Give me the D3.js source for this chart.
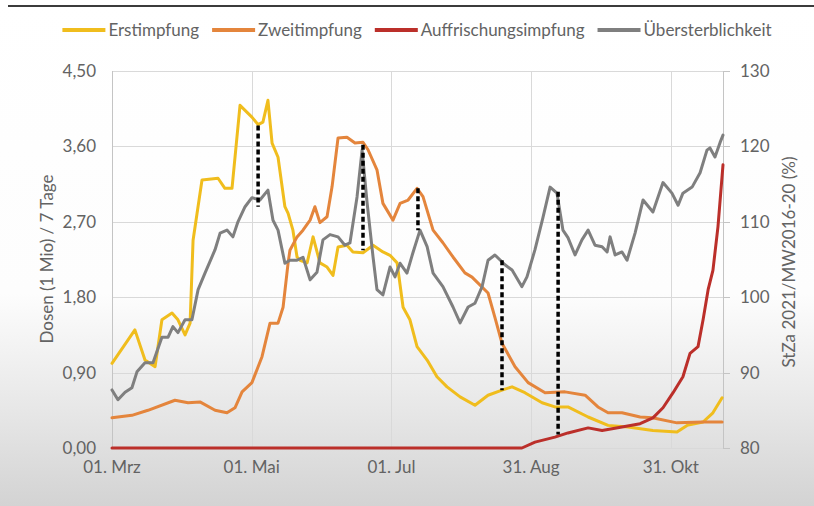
<!DOCTYPE html>
<html>
<head>
<meta charset="utf-8">
<title>Impfungen und Übersterblichkeit 2021</title>
<script src="https://d3js.org/d3.v7.min.js"></script>
<style>
	body { margin:0; background:#fff; }
	.chartContainer { width:814px; height:506px; }
	text { font-family: Lato, "Liberation Sans", sans-serif; fill:#636363; }
	.grid line { stroke:#d9d9d9; stroke-width:1; shape-rendering:crispEdges; }
	.axisline { stroke:#c4c4c4; stroke-width:1; shape-rendering:crispEdges; }
	.series { fill:none; stroke-width:3; stroke-linejoin:round; stroke-linecap:round; }
	.marker { stroke:#000; stroke-width:3.5; stroke-dasharray:5,3; }
</style>
</head>
<body>
<div class="chartContainer"></div>
<script>
// x = Tage ab 01. Mrz 2021, y = Dosen (Mio) bzw. StZa (%)
var erstimpfung = [[0,1.01],[10,1.41],[14.4,1.05],[18.8,0.97],[21.8,1.53],[26.2,1.61],[28.8,1.53],[31.9,1.35],[34.1,1.49],[35.4,2.48],[39.3,3.20],[46.3,3.22],[49.3,3.10],[52.4,3.10],[55.9,4.09],[61.1,3.95],[63.8,3.86],[65.9,3.89],[68.1,4.15],[69.9,3.64],[72.5,3.47],[75.5,2.88],[76.9,2.80],[79,2.60],[80.8,2.28],[82.1,2.24],[85.2,2.21],[87.8,2.52],[90.8,2.21],[93.9,2.16],[96.5,2.06],[98.7,2.40],[102.6,2.42],[105.2,2.34],[109.6,2.33],[114,2.42],[118.3,2.34],[121.4,2.30],[124.5,2.21],[127.1,1.68],[130.1,1.53],[133.2,1.21],[137.6,1.05],[141.9,0.85],[146.3,0.73],[152,0.61],[158.5,0.51],[164.2,0.63],[170.3,0.69],[174.7,0.73],[180.3,0.66],[187.8,0.54],[193.4,0.49],[199.1,0.49],[207.9,0.37],[216.6,0.27],[225.3,0.25],[236.2,0.21],[246.7,0.19],[251.1,0.27],[258.1,0.31],[262.4,0.42],[266.4,0.60]];

var zweitimpfung = [[0,0.36],[8.7,0.39],[15.7,0.45],[27.5,0.57],[33.2,0.54],[38.4,0.55],[45,0.45],[50.2,0.42],[53.7,0.48],[56.8,0.67],[61.1,0.78],[65.5,1.09],[69,1.49],[72.5,1.49],[74.7,1.68],[76.9,2.21],[77.7,2.36],[80.8,2.52],[83.4,2.60],[86.5,2.72],[88.6,2.88],[90.8,2.69],[93.9,2.76],[96.1,3.12],[98.7,3.70],[102.6,3.71],[106.1,3.64],[109.6,3.65],[111.8,3.56],[115.7,3.32],[118.3,2.92],[122.7,2.72],[125.8,2.92],[129.3,2.96],[133.2,3.10],[135.8,3.00],[140.2,2.60],[144.5,2.45],[148.9,2.28],[154.1,2.09],[157.2,2.04],[164.2,1.85],[167.2,1.56],[170.3,1.25],[176,0.97],[181.7,0.78],[189.1,0.66],[197.8,0.67],[206.6,0.63],[212.2,0.49],[216.6,0.42],[222.7,0.42],[230.6,0.37],[236,0.36],[246.7,0.30],[258.1,0.31],[266.4,0.31]];

var auffrischung = [[0,0],[179,0],[184.7,0.07],[193.4,0.13],[199.1,0.18],[207.9,0.24],[214,0.21],[222.7,0.25],[230.6,0.29],[236.2,0.36],[240.6,0.48],[245,0.66],[249.3,0.85],[252.4,1.13],[255.9,1.21],[258.1,1.53],[260.3,1.89],[262.4,2.12],[264.6,2.64],[266.8,3.38]];

var uebersterblichkeit = [[0,87.7],[2.6,86.4],[5.7,87.4],[8.7,88.0],[10.9,90.1],[14.4,91.3],[17.9,91.3],[21.8,94.7],[24.5,94.7],[26.6,96.1],[28.8,95.3],[31.9,97.0],[34.9,97.0],[37.6,101.0],[40.6,103.2],[45,106.3],[47.2,108.5],[50.2,108.9],[52.8,108.0],[55,110.0],[58.1,112.0],[61.1,113.2],[64.6,112.9],[68.1,114.2],[70.3,110.2],[72.5,108.9],[75.5,104.5],[77.7,104.9],[80.8,104.9],[83.4,105.3],[86.5,102.3],[89.5,103.3],[92.1,107.6],[95.2,108.3],[98.7,108.0],[101.7,106.9],[103.9,107.2],[107,113.3],[109.2,119.5],[111.4,112.5],[114,105.3],[115.7,101.0],[118.3,100.3],[121.4,104.0],[123.6,102.7],[125.8,104.5],[128.8,103.2],[131.4,105.9],[134.5,108.9],[137.6,106.7],[140.2,103.2],[144.5,101.4],[148.9,98.7],[152,96.6],[155.5,98.7],[158.5,99.2],[161.6,101.4],[164.2,104.9],[167.2,105.6],[171.6,104.3],[174.7,103.6],[179,101.4],[181.2,102.7],[184.7,106.3],[188.2,110.6],[191.3,114.6],[194.3,113.8],[196.9,108.9],[199.1,107.9],[202.2,105.6],[205.2,107.6],[207.9,108.9],[210.9,106.9],[214,106.7],[216.2,106.0],[217.5,108.0],[219.7,105.6],[222.7,106.0],[224.9,104.9],[228.4,108.5],[231.9,112.9],[236.2,111.3],[240.6,115.2],[244.5,113.8],[247.2,112.2],[249.3,113.8],[253.3,114.6],[256.8,116.5],[259.8,119.5],[261.1,119.8],[263.3,118.6],[265.5,120.5],[266.8,121.5]];

// gestrichelte Verbindungen (Tag, oberer / unterer Wert auf der Dosen-Achse)
var markerDays = [63.8, 109.6, 133.6, 170.3, 194.8];
var markerTop = [3.85, 3.62, 3.10, 2.24, 3.06];
var markerBottom = [2.88, 2.36, 2.60, 0.69, 0.16];

var xTickDays = [0, 61, 122, 183, 244];
var xTickLabels = ["01. Mrz", "01. Mai", "01. Jul", "31. Aug", "31. Okt"];
var leftTicks = [0, 0.9, 1.8, 2.7, 3.6, 4.5];
var rightTicks = [80, 90, 100, 110, 120, 130];

var seriesNames = ["Erstimpfung", "Zweitimpfung", "Auffrischungsimpfung", "Übersterblichkeit"];
var seriesColors = ["#f0bd1d", "#e4853c", "#bb2f2a", "#7f7f7f"];

var totalWidth = 814, totalHeight = 506;
var plot = {left:112, right:723, top:71, bottom:448};

var x = d3.scaleLinear().domain([0, 266.8]).range([plot.left, plot.right]);
var yLeft = d3.scaleLinear().domain([0, 4.5]).range([plot.bottom, plot.top]);
var yRight = d3.scaleLinear().domain([80, 130]).range([plot.bottom, plot.top]);

var svg = d3.select(".chartContainer").append("svg")
	.attr("width", totalWidth)
	.attr("height", totalHeight);

// hintergrund: heller verlauf nach unten wie im Foto
var grad = svg.append("defs").append("linearGradient")
	.attr("id", "bg").attr("x1", 0).attr("y1", 0).attr("x2", 0).attr("y2", 1);
grad.append("stop").attr("offset", "0%").attr("stop-color", "#ffffff");
grad.append("stop").attr("offset", "58%").attr("stop-color", "#fdfdfd");
grad.append("stop").attr("offset", "82%").attr("stop-color", "#e6e6e6");
grad.append("stop").attr("offset", "100%").attr("stop-color", "#d3d3d3");
svg.append("rect").attr("width", totalWidth).attr("height", totalHeight).attr("fill", "url(#bg)");

svg.append("line").attr("x1", 8).attr("x2", totalWidth).attr("y1", 6).attr("y2", 6)
	.attr("stroke", "#3b3b3b").attr("stroke-width", 2);

// gitter
var grid = svg.append("g").attr("class", "grid");
grid.selectAll(".h").data(leftTicks).enter().append("line")
	.attr("x1", plot.left).attr("x2", plot.right)
	.attr("y1", function(d) { return Math.round(yLeft(d)) + 0.5; })
	.attr("y2", function(d) { return Math.round(yLeft(d)) + 0.5; });
grid.selectAll(".v").data(xTickDays.slice(1)).enter().append("line")
	.attr("y1", plot.top).attr("y2", plot.bottom)
	.attr("x1", function(d) { return Math.round(x(d)) + 0.5; })
	.attr("x2", function(d) { return Math.round(x(d)) + 0.5; });

svg.append("line").attr("class", "axisline")
	.attr("x1", plot.left + 0.5).attr("x2", plot.left + 0.5).attr("y1", plot.top).attr("y2", plot.bottom);
svg.append("line").attr("class", "axisline")
	.attr("x1", plot.right + 0.5).attr("x2", plot.right + 0.5).attr("y1", plot.top).attr("y2", plot.bottom);
svg.selectAll(".rtick").data(rightTicks).enter().append("line").attr("class", "axisline")
	.attr("x1", plot.right).attr("x2", plot.right + 7)
	.attr("y1", function(d) { return Math.round(yRight(d)) + 0.5; })
	.attr("y2", function(d) { return Math.round(yRight(d)) + 0.5; });

// achsenbeschriftung
var fmt = function(d) { return d3.format(".2f")(d).replace(".", ","); };
svg.selectAll(".ltick").data(leftTicks).enter().append("text")
	.attr("x", 96).attr("y", function(d) { return yLeft(d); })
	.attr("dy", "0.35em").attr("text-anchor", "end")
	.style("font-size", "17px")
	.text(fmt);
svg.selectAll(".rlabel").data(rightTicks).enter().append("text")
	.attr("x", 740).attr("y", function(d) { return yRight(d); })
	.attr("dy", "0.35em")
	.style("font-size", "17px")
	.text(function(d) { return d; });
svg.selectAll(".xlabel").data(xTickDays).enter().append("text")
	.attr("x", function(d) { return x(d); }).attr("y", 467)
	.attr("dy", "0.35em").attr("text-anchor", "middle")
	.style("font-size", "17px")
	.text(function(d, i) { return xTickLabels[i]; });

svg.append("text")
	.attr("transform", "translate(47," + 259 + ") rotate(-90)")
	.attr("text-anchor", "middle").attr("dy", "0.35em")
	.style("font-size", "17px")
	.text("Dosen (1 Mio) / 7 Tage");
svg.append("text")
	.attr("transform", "translate(789," + 262 + ") rotate(-90)")
	.attr("text-anchor", "middle").attr("dy", "0.35em")
	.style("font-size", "17px")
	.text("StZa 2021/MW2016-20 (%)");

// linien
var lineLeft = d3.line()
	.x(function(d) { return x(d[0]); })
	.y(function(d) { return yLeft(d[1]); });
var lineRight = d3.line()
	.x(function(d) { return x(d[0]); })
	.y(function(d) { return yRight(d[1]); });

var series = [
	{data:erstimpfung, line:lineLeft, color:seriesColors[0]},
	{data:zweitimpfung, line:lineLeft, color:seriesColors[1]},
	{data:auffrischung, line:lineLeft, color:seriesColors[2]},
	{data:uebersterblichkeit, line:lineRight, color:seriesColors[3]}
];
svg.selectAll(".series").data(series).enter().append("path")
	.attr("class", "series")
	.attr("stroke", function(d) { return d.color; })
	.attr("d", function(d) { return d.line(d.data); });

svg.selectAll(".marker").data(markerDays).enter().append("line")
	.attr("class", "marker")
	.attr("x1", function(d) { return x(d); })
	.attr("x2", function(d) { return x(d); })
	.attr("y1", function(d, i) { return yLeft(markerTop[i]); })
	.attr("y2", function(d, i) { return yLeft(markerBottom[i]); });

// legende, zentriert
var legend = svg.append("g");
var pos = 0;
seriesNames.forEach(function(name, i) {
	var g = legend.append("g").attr("transform", "translate(" + pos + ",0)");
	g.append("line").attr("x1", 0).attr("x2", 43).attr("y1", 30).attr("y2", 30)
		.attr("stroke", seriesColors[i]).attr("stroke-width", 4);
	var t = g.append("text").attr("x", 46).attr("y", 30).attr("dy", "0.35em")
		.style("font-size", "17px").text(name);
	pos += 46 + t.node().getComputedTextLength() + 13;
});
pos -= 13;
legend.attr("transform", "translate(" + (417 - pos / 2) + ",0)");
</script>
</body>
</html>
